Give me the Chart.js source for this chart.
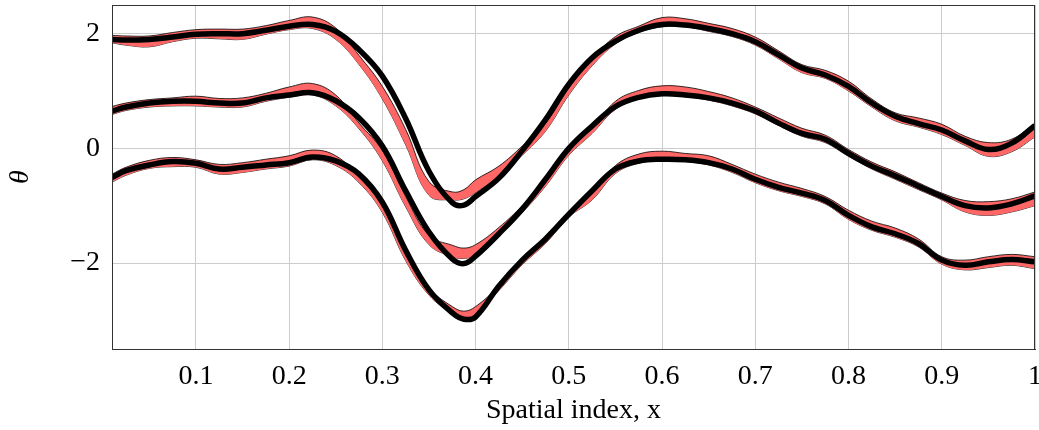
<!DOCTYPE html>
<html>
<head>
<meta charset="utf-8">
<script src="https://cdn.jsdelivr.net/npm/chart.js@4.4.0/dist/chart.umd.min.js"></script>
<style>
  html, body { margin: 0; padding: 0; background: #fff; }
  #wrap { width: 1039px; height: 430px; }
</style>
</head>
<body>
<div id="wrap"><canvas id="chart" width="1039" height="430"></canvas></div>
<script>
// spatial positions
const xs = [0.01, 0.025, 0.05, 0.075, 0.1, 0.125, 0.15, 0.175, 0.2, 0.225, 0.25, 0.275, 0.3, 0.325, 0.35, 0.375, 0.3875, 0.4, 0.425, 0.45, 0.475, 0.5, 0.525, 0.55, 0.575, 0.6, 0.625, 0.65, 0.675, 0.7, 0.725, 0.75, 0.775, 0.8, 0.825, 0.85, 0.875, 0.9, 0.925, 0.95, 0.975, 1.0];

// top curve: true line and red band
const topLine = [1.90, 1.89, 1.90, 1.94, 1.99, 2.00, 2.00, 2.06, 2.13, 2.16, 2.04, 1.72, 1.26, 0.52, -0.40, -0.95, -0.99, -0.84, -0.52, -0.04, 0.50, 1.12, 1.58, 1.87, 2.06, 2.16, 2.15, 2.09, 2.00, 1.86, 1.63, 1.40, 1.28, 1.08, 0.79, 0.56, 0.43, 0.32, 0.13, -0.02, 0.09, 0.40];
const topUpper = [1.97, 1.96, 1.96, 2.02, 2.07, 2.08, 2.08, 2.14, 2.23, 2.29, 2.10, 1.62, 1.08, 0.33, -0.58, -0.76, -0.72, -0.55, -0.31, 0.04, 0.44, 1.05, 1.56, 1.95, 2.13, 2.28, 2.26, 2.18, 2.09, 1.94, 1.70, 1.46, 1.36, 1.17, 0.86, 0.62, 0.53, 0.42, 0.21, 0.10, 0.16, 0.43];
const topLower = [1.84, 1.80, 1.77, 1.86, 1.92, 1.91, 1.90, 1.99, 2.07, 2.09, 1.90, 1.46, 0.86, 0.06, -0.82, -0.90, -0.88, -0.77, -0.48, -0.12, 0.30, 0.93, 1.44, 1.82, 2.02, 2.12, 2.12, 2.04, 1.95, 1.80, 1.56, 1.32, 1.22, 1.00, 0.72, 0.48, 0.37, 0.24, 0.05, -0.14, -0.06, 0.20];

// middle curve
const midLine = [0.65, 0.72, 0.79, 0.82, 0.82, 0.79, 0.79, 0.88, 0.93, 0.97, 0.83, 0.53, 0.04, -0.74, -1.46, -1.93, -2.01, -1.88, -1.49, -1.06, -0.54, 0.00, 0.39, 0.73, 0.89, 0.95, 0.93, 0.88, 0.79, 0.65, 0.44, 0.26, 0.16, -0.09, -0.31, -0.48, -0.66, -0.84, -1.00, -1.04, -0.97, -0.83];
const midUpper = [0.73, 0.79, 0.85, 0.88, 0.91, 0.87, 0.88, 0.96, 1.07, 1.13, 0.93, 0.44, -0.04, -0.84, -1.52, -1.69, -1.74, -1.68, -1.38, -1.00, -0.55, 0.00, 0.36, 0.82, 1.01, 1.09, 1.07, 0.99, 0.88, 0.72, 0.53, 0.35, 0.23, -0.02, -0.24, -0.41, -0.60, -0.78, -0.91, -0.93, -0.88, -0.76];
const midLower = [0.59, 0.66, 0.72, 0.74, 0.74, 0.72, 0.72, 0.82, 0.89, 0.93, 0.74, 0.34, -0.22, -1.02, -1.68, -1.89, -1.92, -1.86, -1.50, -1.12, -0.66, -0.12, 0.26, 0.68, 0.86, 0.92, 0.90, 0.84, 0.74, 0.60, 0.40, 0.21, 0.10, -0.14, -0.36, -0.54, -0.72, -0.90, -1.11, -1.17, -1.11, -1.00];

// bottom curve
const lowLine = [-0.51, -0.39, -0.29, -0.23, -0.26, -0.36, -0.33, -0.29, -0.25, -0.15, -0.22, -0.45, -0.94, -1.78, -2.47, -2.87, -2.98, -2.94, -2.40, -1.95, -1.58, -1.15, -0.74, -0.36, -0.22, -0.19, -0.20, -0.25, -0.36, -0.54, -0.68, -0.78, -0.91, -1.17, -1.37, -1.49, -1.66, -1.95, -2.04, -1.98, -1.94, -1.98];
const lowUpper = [-0.45, -0.33, -0.21, -0.16, -0.20, -0.28, -0.25, -0.19, -0.13, -0.03, -0.13, -0.50, -1.00, -1.84, -2.44, -2.76, -2.84, -2.76, -2.40, -1.96, -1.58, -1.12, -0.78, -0.30, -0.10, -0.05, -0.09, -0.13, -0.28, -0.45, -0.59, -0.70, -0.84, -1.08, -1.27, -1.39, -1.58, -1.89, -1.95, -1.89, -1.85, -1.89];
const lowLower = [-0.59, -0.47, -0.35, -0.32, -0.33, -0.45, -0.42, -0.36, -0.31, -0.20, -0.30, -0.60, -1.12, -1.96, -2.56, -2.88, -2.96, -2.90, -2.48, -2.03, -1.66, -1.20, -0.90, -0.44, -0.26, -0.22, -0.23, -0.29, -0.42, -0.60, -0.74, -0.84, -0.97, -1.24, -1.43, -1.55, -1.72, -2.02, -2.12, -2.08, -2.04, -2.10];

// tick labels
const xTicks = [0.1, 0.2, 0.3, 0.4, 0.5, 0.6, 0.7, 0.8, 0.9, 1];
const yTicks = [-2, 0, 2];

const serif = "'Liberation Serif', 'DejaVu Serif', serif";
const pts = (arr) => arr.map((v, i) => ({ x: xs[i], y: v }));

function band(upper, lower) {
  return [
    {
      data: pts(upper),
      borderColor: '#000',
      borderWidth: 0.8,
      backgroundColor: '#ff6666',
      fill: '+1',
      pointRadius: 0,
      tension: 0.4,
      order: 2
    },
    {
      data: pts(lower),
      borderColor: '#000',
      borderWidth: 0.8,
      fill: false,
      pointRadius: 0,
      tension: 0.4,
      order: 2
    }
  ];
}

function line(vals) {
  return {
    data: pts(vals),
    borderColor: '#000',
    borderWidth: 5.5,
    fill: false,
    pointRadius: 0,
    tension: 0.4,
    order: 0
  };
}

// box round the plot area
const boxPlugin = {
  id: 'box',
  afterDraw(chart) {
    const a = chart.chartArea;
    const ctx = chart.ctx;
    ctx.save();
    ctx.strokeStyle = '#333';
    ctx.lineWidth = 1;
    ctx.strokeRect(a.left + 0.5, a.top + 0.5, a.right - a.left - 1, a.bottom - a.top);
    ctx.restore();
  }
};

const ctx = document.getElementById('chart').getContext('2d');
const chart = new Chart(ctx, {
  type: 'line',
  data: {
    datasets: [
      ...band(topUpper, topLower),
      ...band(midUpper, midLower),
      ...band(lowUpper, lowLower),
      line(topLine),
      line(midLine),
      line(lowLine)
    ]
  },
  plugins: [boxPlugin],
  options: {
    responsive: false,
    animation: false,
    layout: { padding: { top: 5, right: 4, left: 0, bottom: 0 } },
    plugins: {
      legend: { display: false },
      tooltip: { enabled: false }
    },
    scales: {
      x: {
        type: 'linear',
        min: 0.01,
        max: 1,
        afterBuildTicks: (scale) => { scale.ticks = xTicks.map(v => ({ value: v })); },
        afterFit: (scale) => {
          scale.height = 81;
          scale.paddingLeft = 0;
          scale.paddingRight = 0;
        },
        grid: { color: '#cccccc', drawTicks: false },
        border: { color: '#333' },
        ticks: {
          padding: 11,
          color: '#000',
          font: { family: serif, size: 28 },
          callback: (v) => String(v)
        },
        title: {
          display: true,
          text: 'Spatial index, x',
          color: '#000',
          font: { family: serif, size: 28 },
          padding: { top: 0, bottom: 3 }
        }
      },
      y: {
        min: -3.5,
        max: 2.5,
        afterBuildTicks: (scale) => { scale.ticks = yTicks.map(v => ({ value: v })); },
        afterFit: (scale) => {
          scale.width = 112;
          scale.paddingTop = 0;
          scale.paddingBottom = 0;
        },
        grid: { color: '#cccccc', drawTicks: false },
        border: { color: '#333' },
        ticks: {
          padding: 12,
          color: '#000',
          font: { family: serif, size: 28 },
          callback: (v) => v < 0 ? '\u2212' + Math.abs(v) : String(v)
        },
        title: {
          display: true,
          text: '\u03b8',
          color: '#000',
          font: { family: serif, size: 28, style: 'italic' },
          padding: { top: 4, bottom: 0 }
        }
      }
    }
  }
});
</script>
</body>
</html>
